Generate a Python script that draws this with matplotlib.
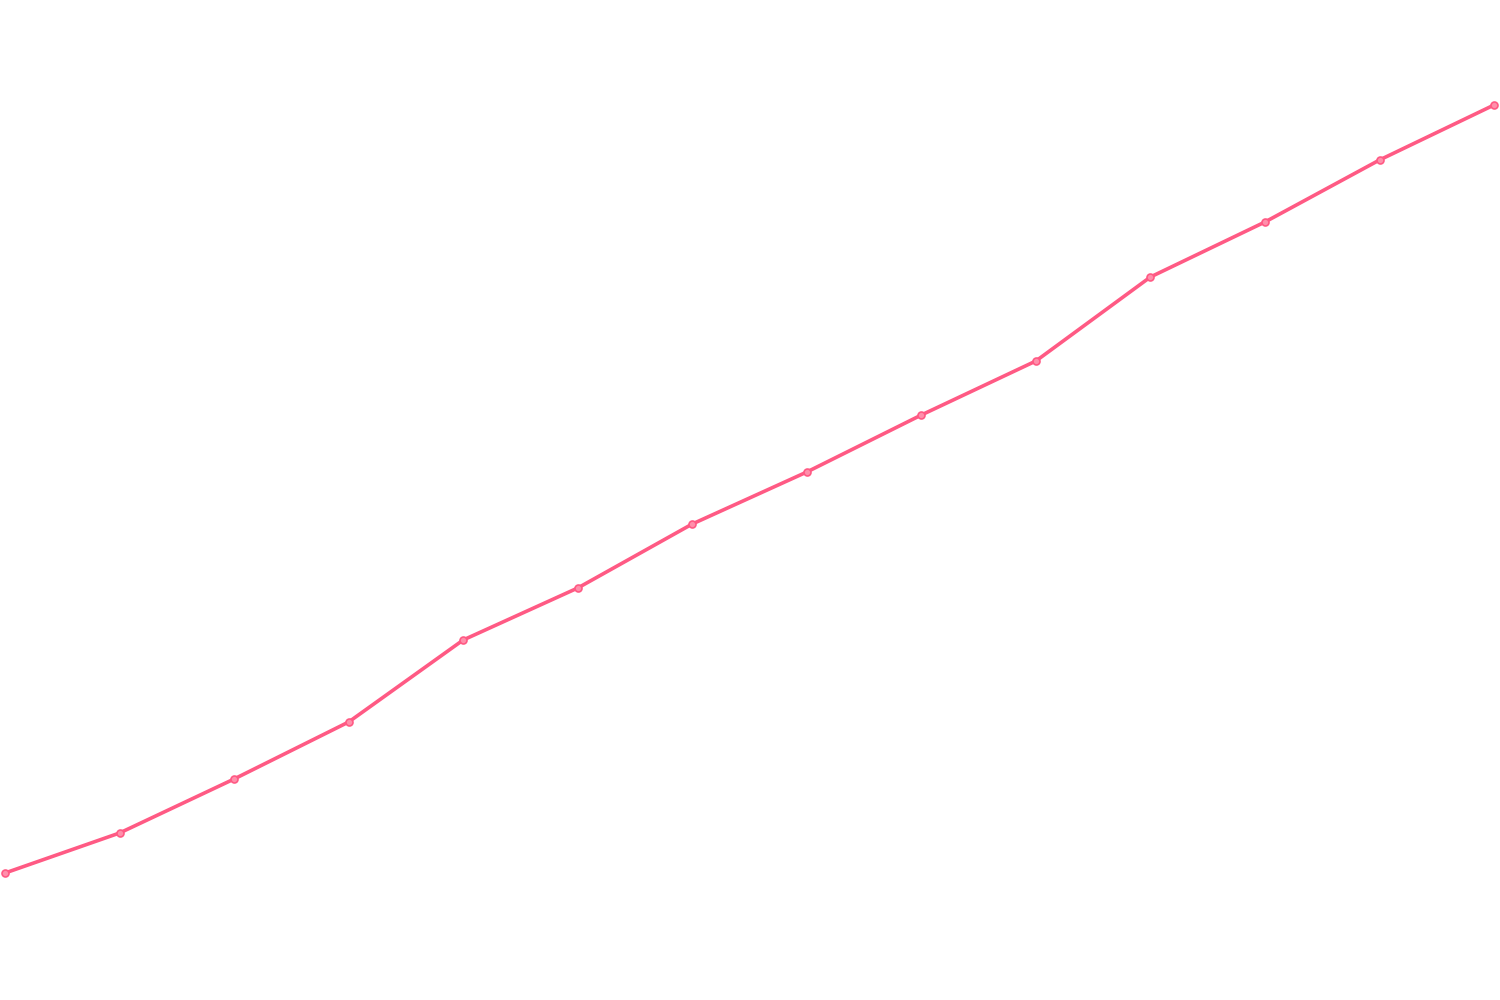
import matplotlib
matplotlib.use('Agg')
import matplotlib.pyplot as plt

x_vals = list(range(14))
y_vals = [127, 167, 221, 278, 360, 412, 476, 528, 585, 639, 723, 778, 840, 895]

line_color = '#ff5a84'

fig = plt.figure(figsize=(15, 10), dpi=100)
ax = fig.add_axes([0, 0, 1, 1])
ax.plot(x_vals, y_vals, color=line_color, linewidth=2.6, zorder=2)
ax.plot(x_vals, y_vals, linestyle='none', marker='o', markersize=5,
        markerfacecolor='#ff8fab', markeredgecolor=line_color,
        markeredgewidth=1.2, zorder=3)
ax.set_xlim(-0.044, 13.052)
ax.set_ylim(0, 1000)
ax.axis('off')
fig.savefig('out.png', dpi=100, facecolor='white')
